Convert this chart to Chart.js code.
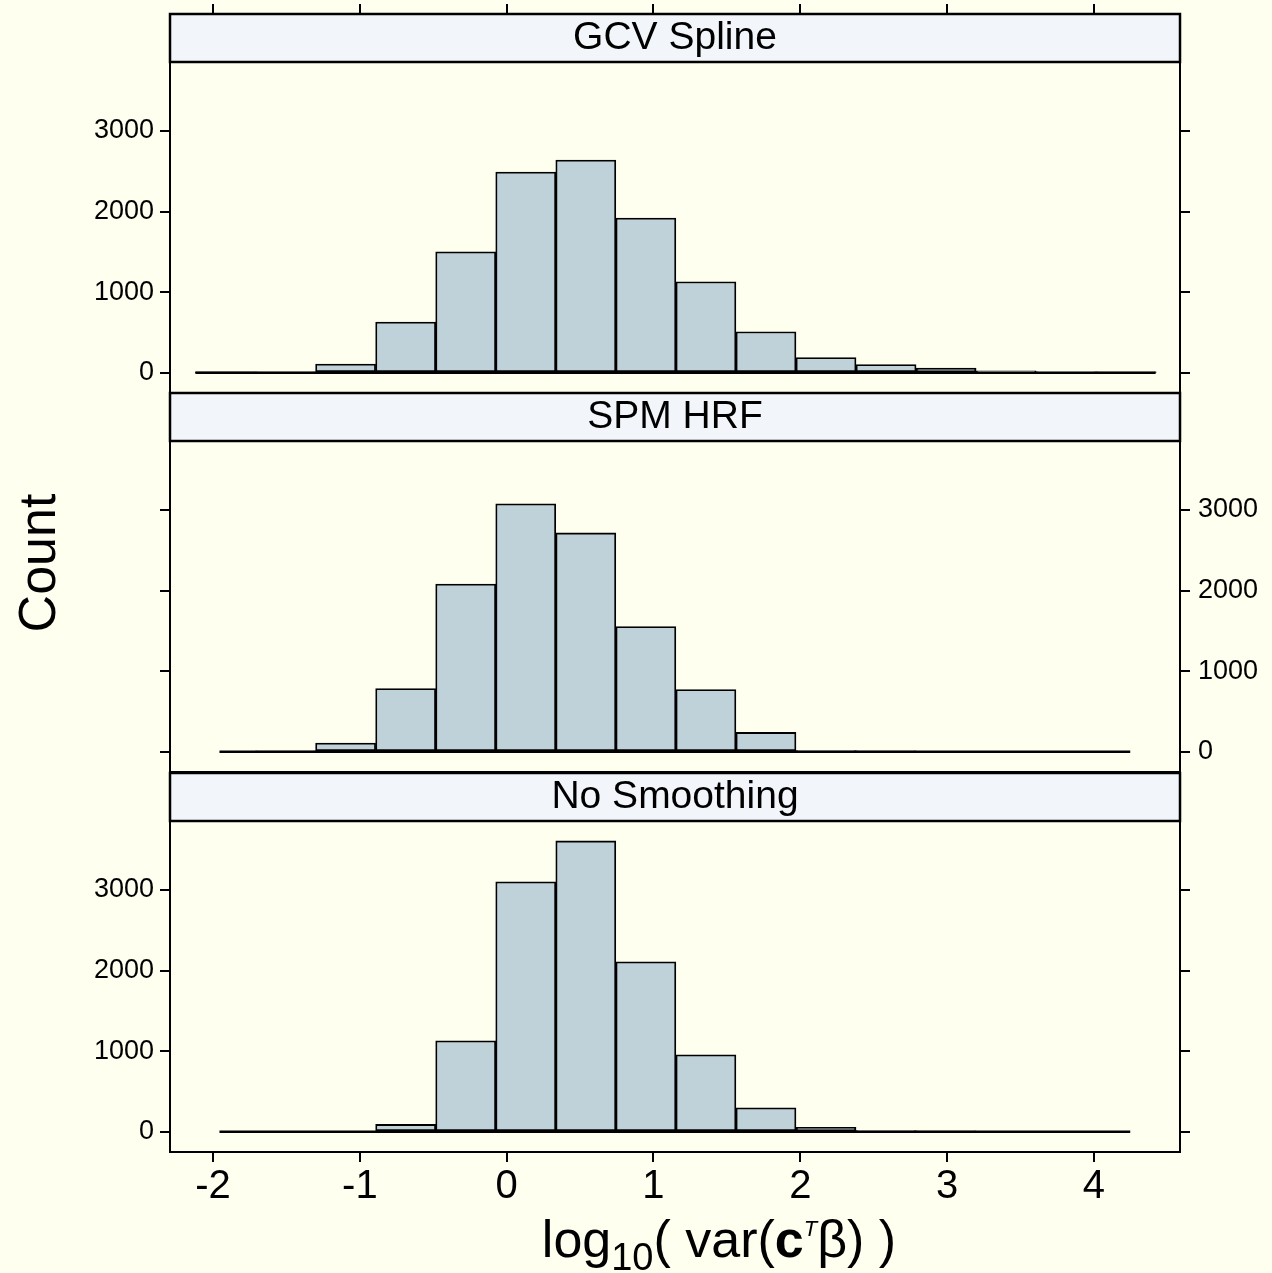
<!DOCTYPE html>
<html><head><meta charset="utf-8">
<script src="https://cdn.jsdelivr.net/npm/chart.js@4.4.1/dist/chart.umd.min.js"></script>
<style>
html,body{margin:0;padding:0;background:#fffff0;}
#wrap{position:relative;width:1272px;height:1273px;overflow:hidden;background:#fffff0;}
canvas{position:absolute;left:0;top:0;}
</style></head><body>
<div id="wrap">
<canvas id="c1" width="1272" height="1273"></canvas>
<canvas id="c2" width="1272" height="1273"></canvas>
<canvas id="c3" width="1272" height="1273"></canvas>
</div>
<script>
// ---- data ----
const panelNames = ['GCV Spline', 'SPM HRF', 'No Smoothing'];
const binCenters = [-1.915, -1.506, -1.097, -0.688, -0.279, 0.130, 0.539, 0.948, 1.357, 1.766, 2.175, 2.584, 2.993, 3.402, 3.811, 4.220];
const countsGCV  = [3, 8, 110, 630, 1500, 2490, 2640, 1920, 1130, 510, 190, 103, 58, 25, 10, 4];
const countsSPM  = [0, 5, 108, 784, 2080, 3075, 2715, 1555, 772, 241, 15, 5, 0, 0, 0, 0];
const countsNone = [0, 0, 0, 92, 1128, 3100, 3608, 2108, 955, 298, 57, 15, 8, 0, 0, 0];
const baselineGCV  = [-2.12, 4.42];
const baselineSPM  = [-1.956, 4.247];
const baselineNone = [-1.956, 4.247];
const xTicks = [-2, -1, 0, 1, 2, 3, 4];
const yTicks = [0, 1000, 2000, 3000];
const xRange = [-2.293, 4.586];
const yRange = [-250, 3855];
const yTitle = 'Count';
const xTitleParts = ['log', '10', '( var(', 'c', 'T', '\u03B2', ') )'];

// ---- styling ----
const FAM = '"Liberation Sans", Arial, Helvetica, sans-serif';
const BAR_FILL = '#bfd1d9';
const STRIP_FILL = '#f2f6fa';

const stripFrame = {
  id: 'stripFrame',
  beforeDraw(chart) {
    const ctx = chart.ctx, a = chart.chartArea, t = chart.titleBlock;
    ctx.save();
    ctx.fillStyle = STRIP_FILL;
    ctx.fillRect(a.left, t.top, a.right - a.left, t.bottom - t.top);
    ctx.restore();
  },
  afterDraw(chart) {
    const ctx = chart.ctx, a = chart.chartArea, t = chart.titleBlock;
    ctx.save();
    ctx.strokeStyle = '#000';
    ctx.lineWidth = 2;
    ctx.strokeRect(a.left, a.top, a.right - a.left, a.bottom - a.top);
    ctx.lineWidth = 2.5;
    ctx.strokeRect(a.left, t.top, a.right - a.left, t.bottom - t.top);
    ctx.restore();
  }
};

const countTitle = {
  id: 'countTitle',
  afterDraw(chart) {
    const ctx = chart.ctx;
    ctx.save();
    ctx.translate(41, 563);
    ctx.rotate(-Math.PI / 2);
    ctx.font = '52px ' + FAM;
    ctx.fillStyle = '#000';
    ctx.textAlign = 'center';
    ctx.textBaseline = 'middle';
    ctx.fillText(yTitle, 0, 0);
    ctx.restore();
  }
};

const xTitle = {
  id: 'xTitle',
  afterDraw(chart) {
    const ctx = chart.ctx;
    const styles = [
      {font: '52px ' + FAM, dy: 0},
      {font: '38px ' + FAM, dy: 13},
      {font: '52px ' + FAM, dy: 0},
      {font: 'bold 52px ' + FAM, dy: 0},
      {font: 'italic 22px ' + FAM, dy: -21},
      {font: '52px ' + FAM, dy: 0},
      {font: '52px ' + FAM, dy: 0}
    ];
    ctx.save();
    ctx.fillStyle = '#000';
    ctx.textBaseline = 'alphabetic';
    ctx.textAlign = 'left';
    let total = 0;
    const widths = xTitleParts.map((p, i) => { ctx.font = styles[i].font; const w = ctx.measureText(p).width; total += w; return w; });
    let x = 719 - total / 2;
    const base = 1257;
    xTitleParts.forEach((p, i) => {
      ctx.font = styles[i].font;
      ctx.fillText(p, x, base + styles[i].dy);
      x += widths[i];
    });
    ctx.restore();
  }
};

function yAxis(position, showLabels, width) {
  return {
    type: 'linear', position: position,
    min: yRange[0], max: yRange[1],
    afterBuildTicks: s => { s.ticks = yTicks.map(v => ({value: v})); },
    afterFit: s => { s.width = width; },
    grid: {display: true, drawOnChartArea: false, drawTicks: true, tickLength: 10, color: '#000', lineWidth: 2},
    border: {display: false},
    ticks: {display: showLabels, color: '#000', font: {family: FAM, size: 27}, padding: position === 'left' ? 6 : 8,
            callback: v => String(v)}
  };
}

function xAxis(mode) {
  const base = {
    type: 'linear', min: xRange[0], max: xRange[1], offset: false,
    afterBuildTicks: s => { s.ticks = xTicks.map(v => ({value: v})); },
    border: {display: false},
    grid: {display: true, offset: false, drawOnChartArea: false, drawTicks: true, tickLength: 10, color: '#000', lineWidth: 2},
    ticks: {display: false, color: '#000', font: {family: FAM, size: 40, lineHeight: 1.2}, padding: 1, callback: v => String(v)}
  };
  if (mode === 'top') {
    base.position = 'top';
    base.weight = 3000;
    base.afterFit = s => { s.height = 10; };
  } else if (mode === 'bottom') {
    base.position = 'bottom';
    base.ticks.display = true;
    base.afterFit = s => { s.height = 121; };
  } else {
    base.display = false;
  }
  return base;
}

function makeChart(id, name, counts, baseline, cfg) {
  const plugins = [stripFrame].concat(cfg.extra || []);
  return new Chart(document.getElementById(id), {
    type: 'bar',
    data: {
      datasets: [
        {
          type: 'line',
          data: baseline.map(v => ({x: v, y: 0})),
          borderColor: '#000', borderWidth: 2.5, pointRadius: 0, order: 0, xAxisID: 'x', yAxisID: 'y'
        },
        {
          type: 'bar',
          data: binCenters.map((c, i) => ({x: c, y: counts[i]})),
          backgroundColor: BAR_FILL, borderColor: '#000', borderWidth: 1.8, borderSkipped: false,
          barPercentage: 1, categoryPercentage: 1, order: 1, xAxisID: 'x', yAxisID: 'y'
        }
      ]
    },
    options: {
      responsive: false, animation: false, devicePixelRatio: 1, events: [],
      layout: {padding: {top: cfg.padTop, bottom: cfg.padBottom, left: 0, right: 0}},
      plugins: {
        legend: {display: false},
        tooltip: {enabled: false},
        title: {display: true, text: name, position: 'top', fullSize: false, color: '#000',
                font: {family: FAM, size: 39, weight: 'normal', lineHeight: '48px'}, padding: 0}
      },
      scales: {
        x: xAxis(cfg.xMode),
        y: yAxis('left', cfg.leftLabels, 170),
        y2: yAxis('right', cfg.rightLabels, 92)
      }
    },
    plugins: plugins
  });
}

makeChart('c1', panelNames[0], countsGCV, baselineGCV, {padTop: 4, padBottom: 880, xMode: 'top', leftLabels: true, rightLabels: false});
makeChart('c2', panelNames[1], countsSPM, baselineSPM, {padTop: 393, padBottom: 501, xMode: 'none', leftLabels: false, rightLabels: true, extra: [countTitle]});
makeChart('c3', panelNames[2], countsNone, baselineNone, {padTop: 773, padBottom: 0, xMode: 'bottom', leftLabels: true, rightLabels: false, extra: [xTitle]});
</script>
</body></html>
